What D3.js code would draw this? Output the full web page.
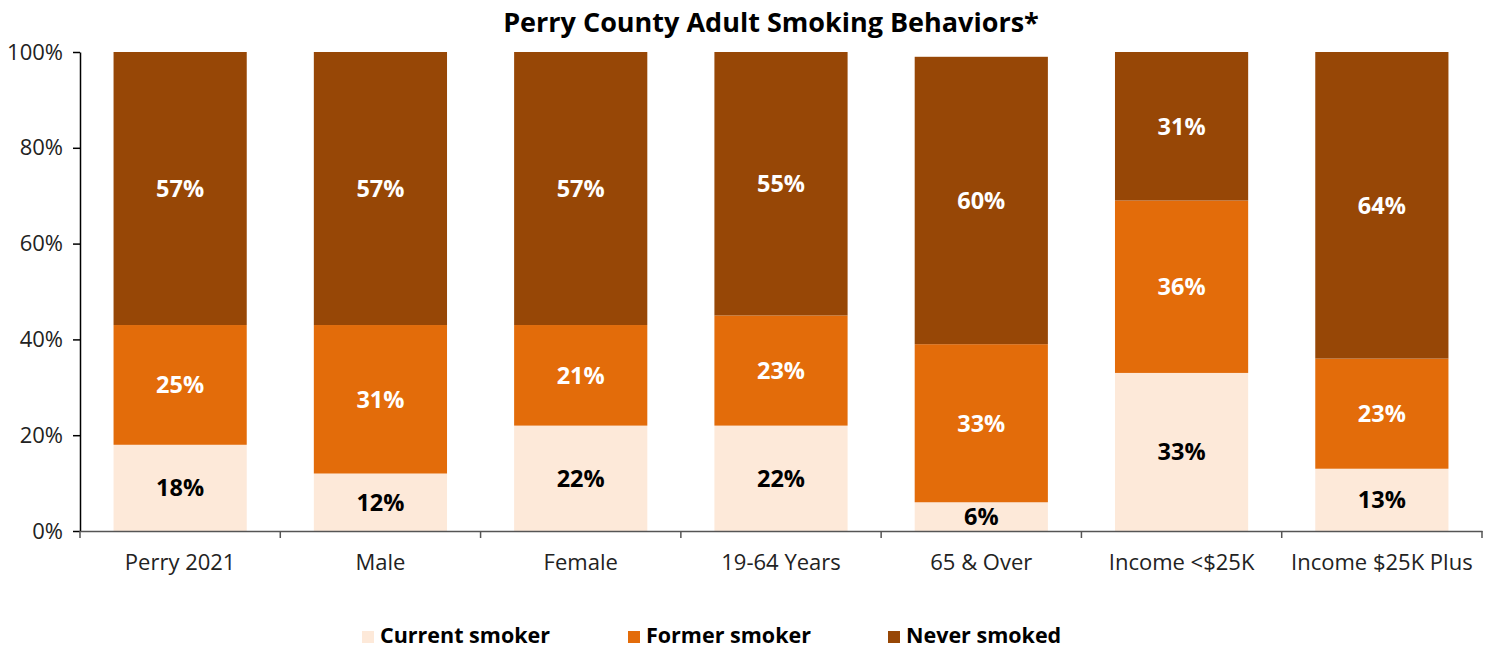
<!DOCTYPE html>
<html><head><meta charset="utf-8">
<script src="https://cdn.jsdelivr.net/npm/d3@7"></script>
<style>
body{margin:0;background:#fff;}
svg{display:block;font-family:"Open Sans","Noto Sans",sans-serif;}
</style></head>
<body>
<svg id="chart" width="1494" height="651"></svg>
<script>
const categories = ["Perry 2021","Male","Female","19-64 Years","65 & Over","Income <$25K","Income $25K Plus"];
const seriesNames = ["Current smoker","Former smoker","Never smoked"];
const currentSmoker = [18,12,22,22,6,33,13];
const formerSmoker = [25,31,21,23,33,36,23];
const neverSmoked = [57,57,57,55,60,31,64];
const yTicks = [0,20,40,60,80,100];
const colors = ["#FDE9D9","#E36C0A","#974706"];
const labelColors = ["#000","#fff","#fff"];

const svg = d3.select("#chart");
const plotLeft = 80, plotRight = 1482, plotTop = 52, plotBottom = 531;

const x = d3.scaleBand().domain(categories).range([plotLeft, plotRight]).paddingInner(0.335).paddingOuter(0.1675);
const y = d3.scaleLinear().domain([0,100]).range([plotBottom, plotTop]);

const rows = categories.map((c,i)=>({cat:c, s0:currentSmoker[i], s1:formerSmoker[i], s2:neverSmoked[i]}));
const stack = d3.stack().keys(["s0","s1","s2"])(rows);

stack.forEach((layer, li) => {
  const g = svg.append("g");
  g.selectAll("rect").data(layer).join("rect")
    .attr("x", d => x(d.data.cat))
    .attr("width", x.bandwidth())
    .attr("y", d => y(d[1]))
    .attr("height", d => y(d[0]) - y(d[1]))
    .attr("fill", colors[li]);
  g.selectAll("text").data(layer).join("text")
    .attr("x", d => x(d.data.cat) + x.bandwidth()/2)
    .attr("y", d => (y(d[0]) + y(d[1]))/2)
    .attr("dy", "0.36em")
    .attr("text-anchor","middle")
    .attr("font-size", 23.5)
    .attr("font-weight", 700)
    .attr("fill", labelColors[li])
    .text(d => (d[1]-d[0]) + "%");
});

// Y axis
const yAxis = svg.append("g").attr("transform", `translate(${plotLeft},0)`)
  .call(d3.axisLeft(y).tickValues(yTicks).tickFormat(d => d + "%").tickSize(7).tickSizeOuter(0));
yAxis.select(".domain").attr("stroke","#000").attr("stroke-width",1.5);
yAxis.selectAll(".tick line").attr("stroke","#000").attr("stroke-width",1.5);
yAxis.selectAll(".tick text").attr("font-size",22).attr("fill","#222").attr("font-family","'Open Sans',sans-serif").attr("x",-17);

// X axis
const xAxis = svg.append("g").attr("transform", `translate(0,${plotBottom})`)
  .call(d3.axisBottom(x).tickSize(0).tickSizeOuter(0));
xAxis.select(".domain").attr("stroke","#555").attr("stroke-width",1.5);
xAxis.selectAll(".tick text").attr("font-size",22).attr("fill","#222").attr("font-family","'Open Sans',sans-serif").attr("y",23).attr("dy","0.71em");
const step = x.step();
const bounds = d3.range(categories.length + 1).map(i => plotLeft + i*step);
xAxis.selectAll(".bnd").data(bounds).join("line").attr("class","bnd")
  .attr("x1", d=>d).attr("x2", d=>d).attr("y1",0).attr("y2",7)
  .attr("stroke","#555").attr("stroke-width",1.5);

// Title
svg.append("text").attr("x", 771).attr("y", 32).attr("text-anchor","middle")
  .attr("font-size", 27).attr("font-weight",700).attr("fill","#000")
  .text("Perry County Adult Smoking Behaviors*");

// Legend
const legendX = [362, 628, 888];
const lg = svg.append("g");
seriesNames.forEach((n,i)=>{
  lg.append("rect").attr("x", legendX[i]).attr("y", 631).attr("width",12).attr("height",12).attr("fill", colors[i]);
  lg.append("text").attr("x", legendX[i]+18).attr("y", 635).attr("dy","0.36em")
    .attr("font-size",21.5).attr("font-weight",700).attr("fill","#000").text(n);
});
</script>
</body></html>
